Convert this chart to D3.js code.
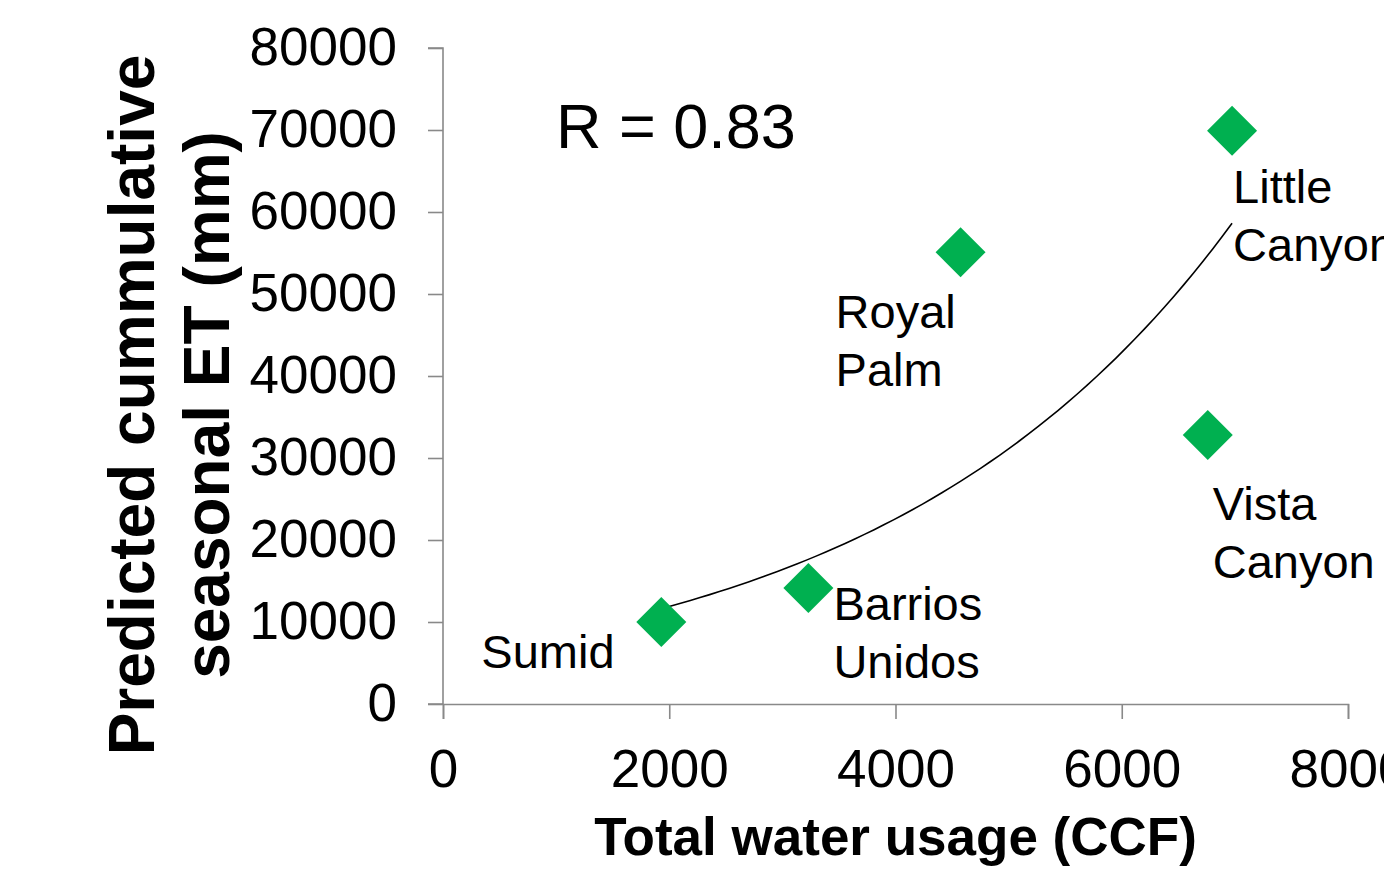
<!DOCTYPE html>
<html>
<head>
<meta charset="utf-8">
<script src="https://cdn.jsdelivr.net/npm/d3@7"></script>
<style>
  body { margin: 0; background: #fff; }
  svg { display: block; font-family: "Liberation Sans", Arial, sans-serif; }
</style>
</head>
<body>
<div id="chart"></div>
<script>
// data
const sites = ["Sumid", "Barrios Unidos", "Royal Palm", "Vista Canyon", "Little Canyon"];
const waterUsage = [1930, 3230, 4575, 6760, 6975];      // CCF
const seasonalET = [10000, 14150, 55100, 32800, 69900];  // mm
const xTicks = [0, 2000, 4000, 6000, 8000];
const yTicks = [0, 10000, 20000, 30000, 40000, 50000, 60000, 70000, 80000];
const rLabel = "R = 0.83";

// label placement relative to each point (pixels)
const labelOffsets = [[-180, 46], [25, 32], [-125, 76], [5, 85], [1, 72]];

const W = 1384, H = 872;
const margin = { top: 48, right: 36, bottom: 168, left: 443 };
const width = W - margin.left - margin.right;
const height = H - margin.top - margin.bottom;

const svg = d3.select('#chart')
  .append('svg')
  .attr('width', W)
  .attr('height', H);

const g = svg.append('g')
  .attr('transform', `translate(${margin.left}, ${margin.top})`);

const xScale = d3.scaleLinear().domain([0, 8000]).range([0, width]);
const yScale = d3.scaleLinear().domain([0, 80000]).range([height, 0]);

const axisColor = '#898989';

//y axis
const yAxis = g.append('g')
  .call(d3.axisLeft(yScale).tickValues(yTicks).tickSize(15).tickPadding(31).tickFormat(d3.format('d')));

//x axis
const xAxis = g.append('g')
  .attr('transform', `translate(0, ${height})`)
  .call(d3.axisBottom(xScale).tickValues(xTicks).tickSize(15).tickPadding(30).tickFormat(d3.format('d')));

[xAxis, yAxis].forEach(ax => {
  ax.select('.domain').attr('stroke', axisColor).attr('stroke-width', 1.6);
  ax.selectAll('.tick line').attr('stroke', axisColor).attr('stroke-width', 1.6);
  ax.selectAll('.tick text')
    .attr('fill', '#000')
    .style('font-size', '53px')
    .style('font-family', '"Liberation Sans", Arial, sans-serif');
});
yAxis.select('.domain').attr('d', `M-15,${height}H0V0H-15`);

//exponential trendline (least squares on ln y)
const lnY = seasonalET.map(v => Math.log(v));
const mx = d3.mean(waterUsage), my = d3.mean(lnY);
const b = d3.sum(waterUsage, (x, i) => (x - mx) * (lnY[i] - my)) / d3.sum(waterUsage, x => (x - mx) ** 2);
const a = Math.exp(my - b * mx);
const xs = d3.range(60).map(i => d3.min(waterUsage) + (d3.max(waterUsage) - d3.min(waterUsage)) * i / 59);

g.append('path')
  .datum(xs)
  .attr('fill', 'none')
  .attr('stroke', '#000')
  .attr('stroke-width', 1.6)
  .attr('d', d3.line().x(d => xScale(d)).y(d => yScale(a * Math.exp(b * d))));

//points
const diamond = d3.symbol().type(d3.symbolSquare).size(1250);
g.selectAll('path.pt')
  .data(sites)
  .enter()
  .append('path')
  .attr('class', 'pt')
  .attr('d', diamond)
  .attr('fill', '#00B050')
  .attr('transform', (d, i) => `translate(${xScale(waterUsage[i])}, ${yScale(seasonalET[i])}) rotate(45)`);

//point labels
const labels = g.selectAll('text.lbl')
  .data(sites)
  .enter()
  .append('text')
  .attr('class', 'lbl')
  .style('font-size', '47px')
  .attr('fill', '#000')
  .attr('x', (d, i) => xScale(waterUsage[i]) + labelOffsets[i][0])
  .attr('y', (d, i) => yScale(seasonalET[i]) + labelOffsets[i][1]);

labels.each(function (d, i) {
  const t = d3.select(this);
  d.split(' ').forEach((w, j) => {
    t.append('tspan')
      .attr('x', xScale(waterUsage[i]) + labelOffsets[i][0])
      .attr('dy', j === 0 ? 0 : 58)
      .text(w);
  });
});

//R annotation
g.append('text')
  .attr('x', 556 - margin.left)
  .attr('y', 148 - margin.top)
  .style('font-size', '63px')
  .text(rLabel);

//axis titles
svg.append('text')
  .attr('x', margin.left + width / 2)
  .attr('y', 855)
  .attr('text-anchor', 'middle')
  .style('font-size', '53px')
  .style('font-weight', 'bold')
  .text('Total water usage (CCF)');

const yTitle = svg.append('text')
  .attr('transform', 'translate(154, 405) rotate(-90)')
  .attr('text-anchor', 'middle')
  .style('font-size', '64px')
  .style('font-weight', 'bold');
yTitle.append('tspan').attr('x', 0).attr('y', 0).text('Predicted cummulative');
yTitle.append('tspan').attr('x', 0).attr('y', 75).text('seasonal ET (mm)');
</script>
</body>
</html>
